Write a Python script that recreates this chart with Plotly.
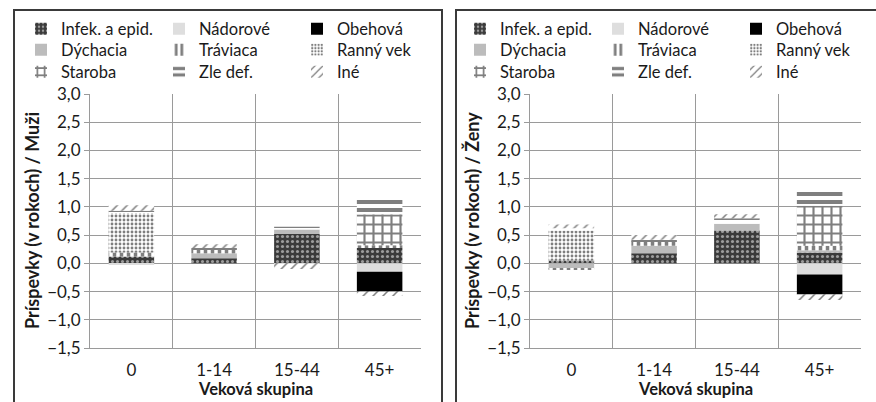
import plotly.graph_objects as go

categories = ["0", "1-14", "15-44", "45+"]
causes = ["Infek. a epid.", "Nádorové", "Obehová", "Dýchacia", "Tráviaca",
          "Ranný vek", "Staroba", "Zle def.", "Iné"]

# Contributions (years) - men
men_infek = [0.12, 0.09, 0.52, 0.27]
men_nador = [-0.03, 0.0, 0.0, -0.15]
men_obeh = [0.0, 0.0, 0.0, -0.35]
men_dych = [0.0, 0.09, 0.08, 0.0]
men_trav = [0.07, 0.06, 0.0, 0.05]
men_ranny = [0.71, 0.0, 0.0, 0.0]
men_staroba = [0.0, 0.0, 0.0, 0.55]
men_zle = [0.03, 0.03, 0.05, 0.25]
men_ine = [0.10, 0.07, -0.10, -0.08]

# Contributions (years) - women
women_infek = [0.05, 0.18, 0.58, 0.19]
women_nador = [0.0, 0.0, 0.0, -0.20]
women_obeh = [0.0, 0.0, 0.0, -0.35]
women_dych = [-0.10, 0.13, 0.12, 0.04]
women_trav = [-0.02, 0.08, 0.0, 0.08]
women_ranny = [0.53, 0.0, 0.0, 0.0]
women_staroba = [0.0, 0.0, 0.0, 0.71]
women_zle = [0.04, 0.03, 0.10, 0.25]
women_ine = [0.07, 0.08, 0.07, -0.10]

men = [men_infek, men_nador, men_obeh, men_dych, men_trav, men_ranny, men_staroba, men_zle, men_ine]
women = [women_infek, women_nador, women_obeh, women_dych, women_trav, women_ranny, women_staroba, women_zle, women_ine]

y_ticks = [-1.5, -1.0, -0.5, 0.0, 0.5, 1.0, 1.5, 2.0, 2.5, 3.0]

styles = [
    dict(color="#3a3a3a", pattern=dict(shape=".", fgcolor="#ffffff", fillmode="overlay", size=5, solidity=0.3)),
    dict(color="#dedede"),
    dict(color="#000000"),
    dict(color="#bcbcbc"),
    dict(color="#ffffff", pattern=dict(shape="|", fgcolor="#000000", fillmode="overlay", size=7, solidity=0.5)),
    dict(color="#ffffff", pattern=dict(shape=".", fgcolor="#000000", fillmode="overlay", size=4, solidity=0.4)),
    dict(color="#ffffff", pattern=dict(shape="+", fgcolor="#000000", fillmode="overlay", size=9, solidity=0.42)),
    dict(color="#ffffff", pattern=dict(shape="-", fgcolor="#000000", fillmode="overlay", size=8, solidity=0.5)),
    dict(color="#ffffff", pattern=dict(shape="/", fgcolor="#000000", fillmode="overlay", size=7, solidity=0.22)),
]

W, H = 876, 402
FONT = "Lato, 'Open Sans', sans-serif"

fig = go.Figure()

legend_rows_men = ["legend", "legend2", "legend3"]
legend_rows_women = ["legend4", "legend5", "legend6"]

for i, (name, st) in enumerate(zip(causes, styles)):
    fig.add_trace(go.Bar(x=categories, y=men[i], name=name, marker=dict(line=dict(width=0), **st),
                         xaxis="x", yaxis="y", legend=legend_rows_men[i // 3]))
for i, (name, st) in enumerate(zip(causes, styles)):
    fig.add_trace(go.Bar(x=categories, y=women[i], name=name, marker=dict(line=dict(width=0), **st),
                         xaxis="x2", yaxis="y2", legend=legend_rows_women[i // 3]))

def px_x(p):
    return p / W

def px_y(p):
    return 1 - p / H

axis_common_y = dict(range=[-1.5, 3.0], tickvals=y_ticks, tickformat=".1f", showgrid=True,
                     gridcolor="#9a9a9a", gridwidth=1, showline=True, linecolor="#9a9a9a",
                     ticks="outside", ticklen=5, tickcolor="#9a9a9a", zeroline=False, automargin=False,
                     tickfont=dict(size=17, color="#1a1a1a", family=FONT))
axis_common_x = dict(type="category", tickson="boundaries", showgrid=True, gridcolor="#9a9a9a",
                     gridwidth=1, showline=True, linecolor="#9a9a9a", mirror=False, ticks="",
                     ticklabelstandoff=7, range=[-0.5, 3.5], automargin=False,
                     tickfont=dict(size=17, color="#1a1a1a", family=FONT))

legend_common = dict(orientation="h", bgcolor="rgba(0,0,0,0)", borderwidth=0, xanchor="left",
                     yanchor="middle", entrywidth=93, itemwidth=30, traceorder="normal",
                     font=dict(size=16.5, color="#1a1a1a", family=FONT), itemclick=False, itemdoubleclick=False)
row_y = [29, 50, 72]

layout_legends = {}
for k, ln in enumerate(legend_rows_men):
    layout_legends[ln] = dict(legend_common, x=px_x(21), y=px_y(row_y[k]))
for k, ln in enumerate(legend_rows_women):
    layout_legends[ln] = dict(legend_common, x=px_x(460), y=px_y(row_y[k]))

fig.update_layout(
    width=W, height=H,
    margin=dict(l=0, r=0, t=0, b=0, autoexpand=False),
    paper_bgcolor="#ffffff", plot_bgcolor="#ffffff",
    barmode="relative", bargap=0.45,
    font=dict(family=FONT, color="#1a1a1a"),
    xaxis=dict(axis_common_x, domain=[px_x(90), px_x(421)], anchor="y"),
    yaxis=dict(axis_common_y, domain=[px_y(348), px_y(94)], anchor="x"),
    xaxis2=dict(axis_common_x, domain=[px_x(530), px_x(861)], anchor="y2"),
    yaxis2=dict(axis_common_y, domain=[px_y(348), px_y(94)], anchor="x2"),
    separators=",.",
    showlegend=True,
    **layout_legends,
)

# panel frames
fig.add_shape(type="rect", xref="paper", yref="paper", x0=px_x(14), x1=px_x(442), y0=-0.1, y1=px_y(10),
              line=dict(color="#3a3a3a", width=2), fillcolor="rgba(0,0,0,0)", layer="below")
fig.add_shape(type="rect", xref="paper", yref="paper", x0=px_x(456), x1=px_x(890), y0=-0.1, y1=px_y(10),
              line=dict(color="#3a3a3a", width=2), fillcolor="rgba(0,0,0,0)", layer="below")

for xc, txt in [(32, "<b>Príspevky (v rokoch) / Muži</b>"), (472, "<b>Príspevky (v rokoch) / Ženy</b>")]:
    fig.add_annotation(xref="paper", yref="paper", x=px_x(xc), y=px_y(221), text=txt, textangle=-90,
                       showarrow=False, xanchor="center", yanchor="middle",
                       font=dict(size=18, color="#1a1a1a", family=FONT))
for xc in [255.5, 695.5]:
    fig.add_annotation(xref="paper", yref="paper", x=px_x(xc), y=px_y(389), text="<b>Veková skupina</b>",
                       showarrow=False, xanchor="center", yanchor="middle",
                       font=dict(size=16.5, color="#1a1a1a", family=FONT))

fig.write_html("out.html")
